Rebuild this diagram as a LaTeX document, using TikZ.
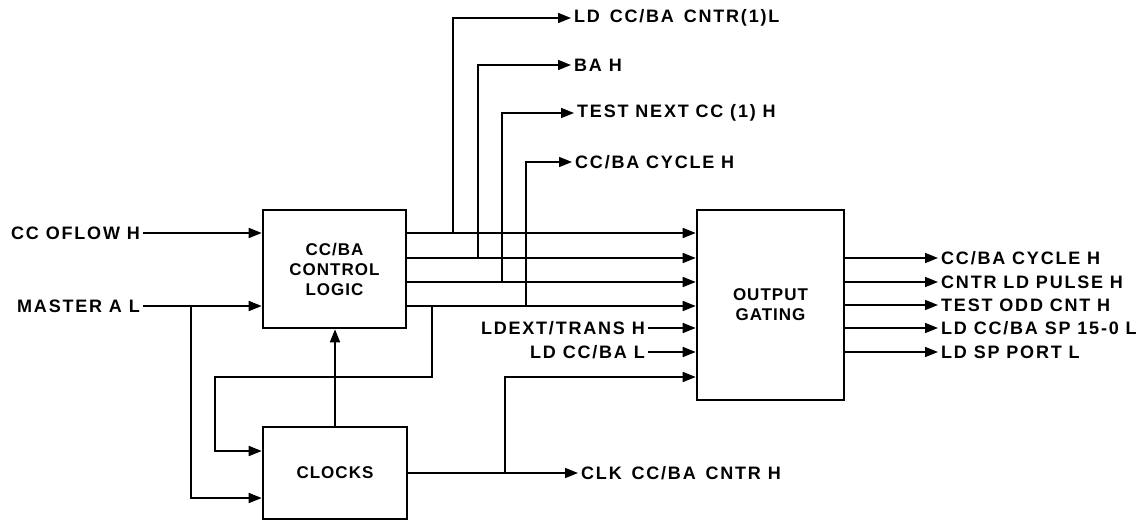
\documentclass[tikz,border=0pt]{standalone}
\usepackage{fontspec}
\usetikzlibrary{arrows.meta}
\newfontfamily\blkfont[LetterSpace=6]{Liberation Sans}
\newfontfamily\lblfont[LetterSpace=10]{Liberation Sans}

\begin{document}
\begin{tikzpicture}[x=1pt, y=-1pt,
    blk/.style={draw, line width=2.6pt, inner sep=0pt, font=\blkfont\bfseries\fontsize{17}{20}\selectfont, align=center},
    sig/.style={line width=1.7pt, -{Triangle[length=13pt, width=10pt]}},
    lbl/.style={inner sep=3pt, font=\lblfont\bfseries\fontsize{18}{20}\selectfont}]
    \useasboundingbox (0,0) rectangle (1143,521);

    % Define the three blocks
    \node[blk, minimum width=143pt, minimum height=118pt] (ctrl) at (334.5,269) {CC/BA\\CONTROL\\LOGIC};
    \node[blk, minimum width=144pt, minimum height=92pt] (clk) at (335,473) {CLOCKS};
    \node[blk, minimum width=147pt, minimum height=190pt] (gate) at (770.5,305) {OUTPUT\\GATING};

    % Row levels and branch points
    \coordinate (r1) at (0,233);
    \coordinate (r2) at (0,258);
    \coordinate (r3) at (0,282);
    \coordinate (r4) at (0,306);
    \coordinate (r5) at (0,328);
    \coordinate (r6) at (0,352);
    \coordinate (r7) at (0,377);
    \coordinate (b1) at (453,233);
    \coordinate (b2) at (478,258);
    \coordinate (b3) at (502,282);
    \coordinate (b4) at (526,306);
    \coordinate (mb) at (191,306);
    \coordinate (mc) at (191,498);
    \coordinate (fb) at (432,306);
    \coordinate (fbl) at (215,377);
    \coordinate (fc) at (215,451);
    \coordinate (cb) at (505,473);

    % Input labels
    \node[lbl, anchor=east] (ccoflow) at (143,233) {CC OFLOW H};
    \node[lbl, anchor=east] (master) at (143,306) {MASTER A L};
    \node[lbl, anchor=east] (ldext) at (648,328) {LDEXT/TRANS H};
    \node[lbl, anchor=east] (ldccba) at (648,352) {LD CC/BA L};

    % Output labels, top
    \node[lbl, anchor=west] (ldcntr) at (571,18) {LD\, CC/BA\, CNTR(1)L};
    \node[lbl, anchor=west] (bah) at (571,65) {BA H};
    \node[lbl, anchor=west] (testnext) at (574,113) {TEST NEXT CC (1) H};
    \node[lbl, anchor=west] (cycletop) at (572,162) {CC/BA CYCLE H};
    \node[lbl, anchor=west] (clkcntr) at (578,473) {CLK\, CC/BA\, CNTR H};

    % Output labels, right
    \node[lbl, anchor=west] (cycle) at (938,258) {CC/BA CYCLE H};
    \node[lbl, anchor=west] (pulse) at (938,282) {CNTR LD PULSE H};
    \node[lbl, anchor=west] (oddcnt) at (938,305) {TEST ODD CNT H};
    \node[lbl, anchor=west] (ldsp) at (938,328) {LD CC/BA SP 15-0 L};
    \node[lbl, anchor=west] (port) at (938,352) {LD SP PORT L};

    % Inputs to control logic
    \draw[sig] (ccoflow) -- (ctrl.west |- r1);
    \draw[sig] (master) -- (ctrl.west |- r4);
    \draw[sig] (mb) -- (mc) -- (clk.west |- mc);

    % Control logic to output gating
    \draw[sig] (ctrl.east |- r1) -- (gate.west |- r1);
    \draw[sig] (ctrl.east |- r2) -- (gate.west |- r2);
    \draw[sig] (ctrl.east |- r3) -- (gate.west |- r3);
    \draw[sig] (ctrl.east |- r4) -- (gate.west |- r4);
    \draw[sig] (ldext) -- (gate.west |- r5);
    \draw[sig] (ldccba) -- (gate.west |- r6);

    % Branches going up
    \draw[sig] (b1) |- (ldcntr.west);
    \draw[sig] (b2) |- (bah.west);
    \draw[sig] (b3) |- (testnext.west);
    \draw[sig] (b4) |- (cycletop.west);

    % Feedback and clocks
    \draw[sig] (fb) |- (fbl) -- (fc) -- (clk.west |- fc);
    \draw[sig] (clk.north) -- (clk.north |- ctrl.south);
    \draw[sig] (clk.east |- cb) -- (clkcntr.west);
    \draw[sig] (cb) |- (gate.west |- r7);

    % Output gating outputs
    \draw[sig] (gate.east |- cycle) -- (cycle.west);
    \draw[sig] (gate.east |- pulse) -- (pulse.west);
    \draw[sig] (gate.east |- oddcnt) -- (oddcnt.west);
    \draw[sig] (gate.east |- ldsp) -- (ldsp.west);
    \draw[sig] (gate.east |- port) -- (port.west);
\end{tikzpicture}
\end{document}
